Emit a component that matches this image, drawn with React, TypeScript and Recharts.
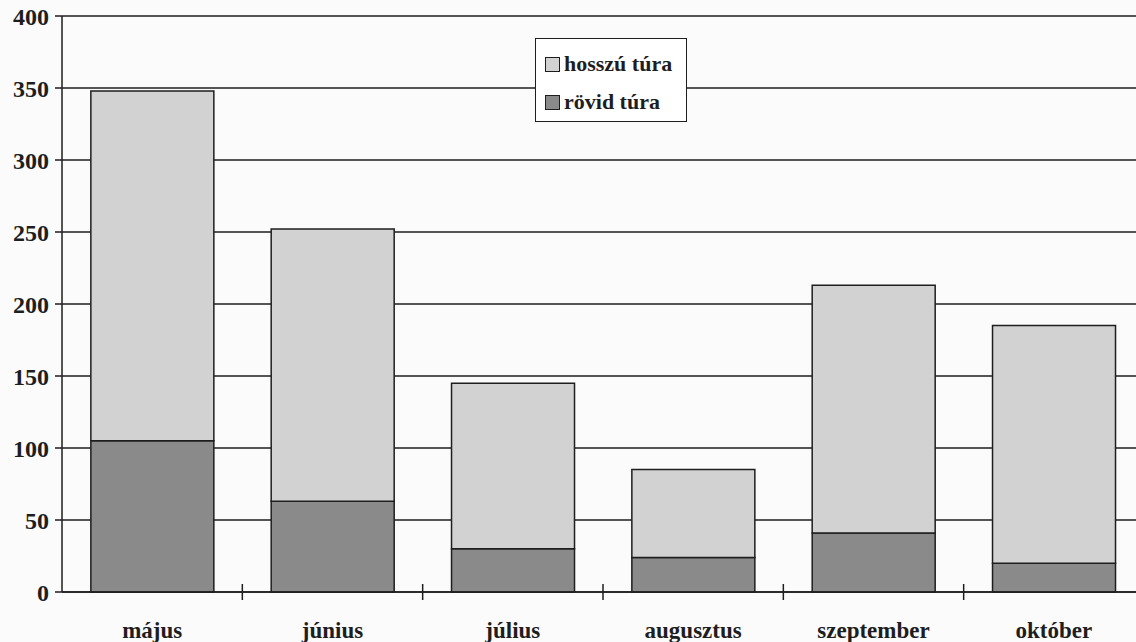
import React from 'react';
import { BarChart, Bar, XAxis, YAxis, CartesianGrid } from 'recharts';

const months = ['május', 'június', 'július', 'augusztus', 'szeptember', 'október'];
const shortTrip = [105, 63, 30, 24, 41, 20];
const longTrip = [243, 189, 115, 61, 172, 165];
const yTicks = [0, 50, 100, 150, 200, 250, 300, 350, 400];

const data = months.map((m, i) => ({ month: m, rovid: shortTrip[i], hosszu: longTrip[i] }));

const W = 1136;
const H = 642;
const LEFT = 62;
const RIGHT = -8;
const BAND = (W - LEFT - RIGHT) / months.length;
const INK = '#1e1e1e';
const LIGHT = '#d2d2d2';
const DARK = '#8a8a8a';
const FONT = 'Liberation Serif';

const XTick = (props: any) => {
  const { x, y, payload, index } = props;
  return (
    <g>
      {index > 0 && (
        <line x1={x - BAND / 2} x2={x - BAND / 2} y1={y - 8} y2={y + 8} stroke={INK} strokeWidth={1.5} />
      )}
      <text x={x} y={y + 46} textAnchor="middle" style={{ fontFamily: FONT, fontWeight: 'bold', fontSize: 23 }} fill={INK}>
        {payload.value}
      </text>
    </g>
  );
};

const LegendBox = () => (
  <div
    style={{
      position: 'absolute',
      left: 535,
      top: 38,
      border: `1.5px solid ${INK}`,
      background: '#fff',
      width: 152,
      height: 84,
      boxSizing: 'border-box',
      padding: '9px 0 0 9px',
      fontFamily: FONT,
      fontWeight: 'bold',
      fontSize: 22,
      color: INK,
      whiteSpace: 'nowrap',
    }}
  >
    {[
      { label: 'hosszú túra', fill: LIGHT },
      { label: 'rövid túra', fill: DARK },
    ].map((it) => (
      <div key={it.label} style={{ display: 'flex', alignItems: 'center', height: 32, marginBottom: 6 }}>
        <span
          style={{
            display: 'inline-block',
            width: 13,
            height: 13,
            background: it.fill,
            border: `1.5px solid ${INK}`,
            marginRight: 4,
          }}
        />
        <span>{it.label}</span>
      </div>
    ))}
  </div>
);

export default function App() {
  return (
    <div style={{ position: 'absolute', left: 0, top: 0, width: W, height: H, background: '#fbfbfb', overflow: 'hidden' }}>
      <BarChart
        width={W}
        height={H}
        data={data}
        margin={{ top: 16, right: RIGHT, left: 0, bottom: 0 }}
        barCategoryGap="16%"
      >
        <CartesianGrid vertical={false} stroke={INK} strokeWidth={1.5} />
        <XAxis
          dataKey="month"
          height={50}
          tickLine={false}
          tickSize={0}
          tickMargin={0}
          axisLine={{ stroke: INK, strokeWidth: 1.5 }}
          tick={<XTick />}
          interval={0}
        />
        <YAxis
          width={LEFT}
          domain={[0, 400]}
          ticks={yTicks}
          interval={0}
          tickSize={7}
          tickMargin={6}
          axisLine={{ stroke: INK, strokeWidth: 1.5 }}
          tickLine={{ stroke: INK, strokeWidth: 1.5 }}
          tick={{ fontFamily: FONT, fontWeight: 'bold', fontSize: 24, fill: INK }}
        />
        <Bar dataKey="rovid" stackId="a" fill={DARK} stroke={INK} strokeWidth={1.5} isAnimationActive={false} />
        <Bar dataKey="hosszu" stackId="a" fill={LIGHT} stroke={INK} strokeWidth={1.5} isAnimationActive={false} />
      </BarChart>
      <LegendBox />
    </div>
  );
}
